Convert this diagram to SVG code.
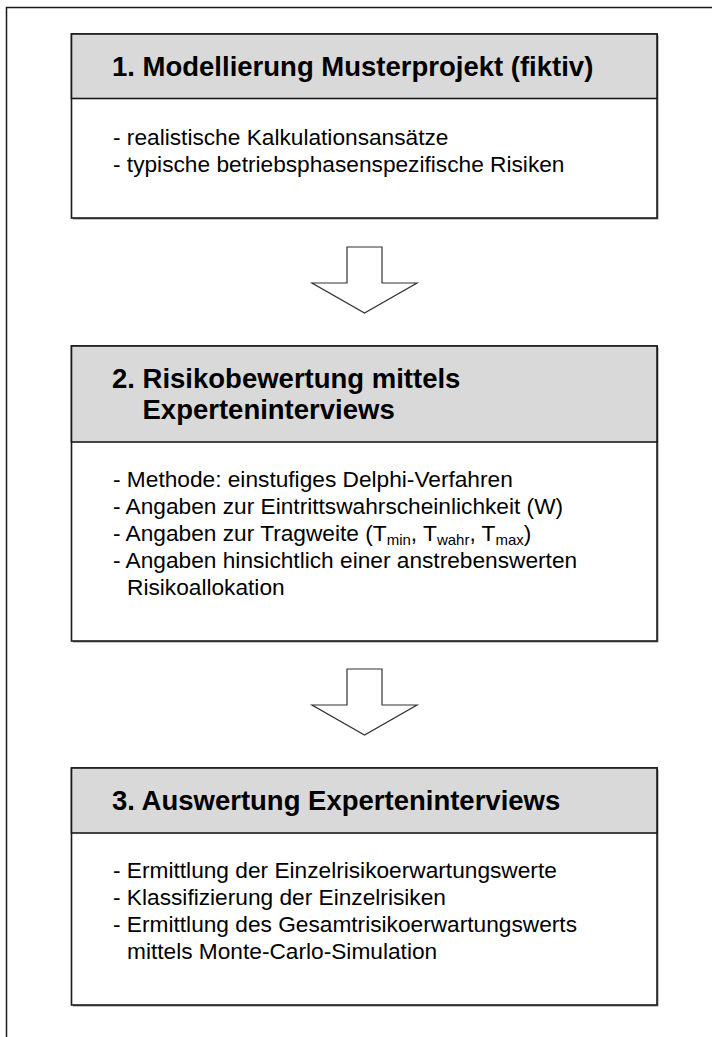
<svg xmlns="http://www.w3.org/2000/svg" width="712" height="1037" viewBox="0 0 712 1037">
  <style>
    .box { fill: #ffffff; stroke: #1a1a1a; stroke-width: 1.6; }
    .head { fill: #d9d9d9; stroke: #1a1a1a; stroke-width: 1.6; }
    .shadow { fill: #8a8a8a; stroke: none; }
    .frame { fill: none; stroke: #1a1a1a; stroke-width: 1.5; }
    .arrow { fill: #ffffff; stroke: #333333; stroke-width: 1.2; stroke-linejoin: miter; }
    .title { font-family: "Liberation Sans", Arial, sans-serif; font-weight: bold; font-size: 27.5px; fill: #000000; }
    .body { font-family: "Liberation Sans", Arial, sans-serif; font-size: 22.7px; fill: #000000; }
    .sub { font-size: 15px; }
  </style>

  <!-- outer frame: top and left edges only -->
  <path class="frame" d="M6.5,1037 V7.5 H712"/>

  <!-- step 1 -->
  <g id="step1">
    <rect class="shadow" x="73" y="35.5" width="585.5" height="184"/>
    <rect class="box" x="71.5" y="34" width="585.5" height="184"/>
    <rect class="head" x="71.5" y="34" width="585.5" height="64.5"/>
    <text class="title" x="112" y="76">1. Modellierung Musterprojekt (fiktiv)</text>
    <text class="body" x="113" y="145">- realistische Kalkulationsansätze</text>
    <text class="body" x="113" y="172">- typische betriebsphasenspezifische Risiken</text>
  </g>

  <!-- step 2 -->
  <g id="step2">
    <rect class="shadow" x="73" y="347.5" width="585.5" height="295"/>
    <rect class="box" x="71.5" y="346" width="585.5" height="295"/>
    <rect class="head" x="71.5" y="346" width="585.5" height="96"/>
    <text class="title" x="112" y="388">2. Risikobewertung mittels</text>
    <text class="title" x="142.5" y="419">Experteninterviews</text>
    <text class="body" x="113" y="487">- Methode: einstufiges Delphi-Verfahren</text>
    <text class="body" x="113" y="514">- Angaben zur Eintrittswahrscheinlichkeit (W)</text>
    <text class="body" x="113" y="541">- Angaben zur Tragweite (T<tspan class="sub" dy="4">min</tspan><tspan dy="-4">, T</tspan><tspan class="sub" dy="4">wahr</tspan><tspan dy="-4">, T</tspan><tspan class="sub" dy="4">max</tspan><tspan dy="-4">)</tspan></text>
    <text class="body" x="113" y="568">- Angaben hinsichtlich einer anstrebenswerten</text>
    <text class="body" x="127" y="595">Risikoallokation</text>
  </g>

  <!-- step 3 -->
  <g id="step3">
    <rect class="shadow" x="73" y="769.5" width="585.5" height="237"/>
    <rect class="box" x="71.5" y="768" width="585.5" height="237"/>
    <rect class="head" x="71.5" y="768" width="585.5" height="65"/>
    <text class="title" x="112" y="810">3. Auswertung Experteninterviews</text>
    <text class="body" x="113" y="878">- Ermittlung der Einzelrisikoerwartungswerte</text>
    <text class="body" x="113" y="905">- Klassifizierung der Einzelrisiken</text>
    <text class="body" x="113" y="932">- Ermittlung des Gesamtrisikoerwartungswerts</text>
    <text class="body" x="127" y="959">mittels Monte-Carlo-Simulation</text>
  </g>

  <!-- block arrows between the steps -->
  <g id="connectors">
    <path class="arrow" d="M347,247 H382 V283 H417 L364.5,313 L312,283 H347 Z"/>
    <path class="arrow" d="M347,669 H382 V705 H417 L364.5,735 L312,705 H347 Z"/>
  </g>
</svg>
